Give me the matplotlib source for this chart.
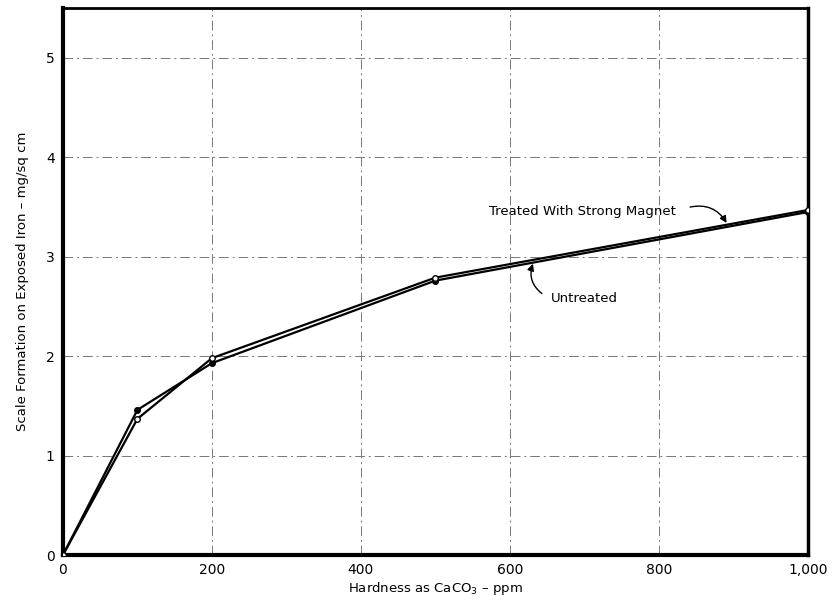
import matplotlib
matplotlib.use("Agg")
import matplotlib.pyplot as plt

hardness = [0, 100, 200, 500, 1000]
untreated = [0.0, 1.46, 1.93, 2.76, 3.45]
treated = [0.0, 1.37, 1.98, 2.79, 3.47]
xticks = [0, 200, 400, 600, 800, 1000]
xticklabels = ["0", "200", "400", "600", "800", "1,000"]
yticks = [0, 1, 2, 3, 4, 5]

fig = plt.figure(figsize=(8.35, 6.13), dpi=100)
ax = fig.add_axes([0.0754, 0.0946, 0.892, 0.892])

ax.plot(hardness, untreated, color="black", lw=1.6, marker="o", ms=4,
        markerfacecolor="black", zorder=3)
ax.plot(hardness, treated, color="black", lw=1.6, marker="o", ms=4,
        markerfacecolor="white", zorder=3)

ax.set_xlim(0, 1000)
ax.set_ylim(0, 5.5)
ax.set_xticks(xticks)
ax.set_xticklabels(xticklabels)
ax.set_yticks(yticks)
ax.grid(True, color="#777777", lw=0.7, ls=(0, (10, 4, 2, 4)))
ax.tick_params(length=0, labelsize=10, pad=6)

for side, w in [("left", 3), ("bottom", 3), ("right", 2.5), ("top", 2)]:
    ax.spines[side].set_linewidth(w)

ax.set_xlabel("Hardness as CaCO$_3$ – ppm", fontsize=9.5, labelpad=2)
ax.set_ylabel("Scale Formation on Exposed Iron – mg/sq cm", fontsize=9.5, labelpad=12)

ax.text(697, 3.46, "Treated With Strong Magnet", fontsize=9.5, ha="center", va="center")
ax.annotate("", xy=(891, 3.34), xytext=(842, 3.50),
            arrowprops=dict(arrowstyle="-|>", color="black", lw=1,
                            connectionstyle="arc3,rad=-0.35", shrinkA=0, shrinkB=0))
ax.text(655, 2.58, "Untreated", fontsize=9.5, ha="left", va="center")
ax.annotate("", xy=(631, 2.93), xytext=(643, 2.63),
            arrowprops=dict(arrowstyle="-|>", color="black", lw=1,
                            connectionstyle="arc3,rad=-0.35", shrinkA=0, shrinkB=0))

fig.savefig("out.png", dpi=100)
